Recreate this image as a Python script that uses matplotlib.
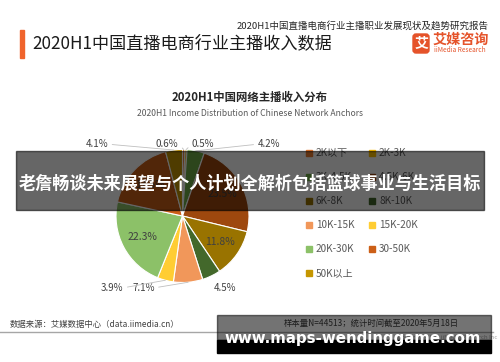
import matplotlib
matplotlib.use('Agg')
import matplotlib.pyplot as plt
from matplotlib.patches import Rectangle, FancyBboxPatch
import numpy as np

plt.rcParams['font.family'] = ['Noto Sans CJK SC', 'DejaVu Sans']

# data
categories = ['2K以下', '2K-3K', '3K-4.5K', '4.5K-6K', '6K-8K', '8K-10K',
              '10K-15K', '15K-20K', '20K-30K', '30-50K', '50K以上']
shares = [0.6, 0.5, 4.2, 23.5, 11.8, 4.5, 7.1, 3.9, 22.3, 17.5, 4.1]
colors = ['#ED7D31', '#FFC000', '#70AD47', '#9E480E', '#997300', '#43682B',
          '#F1975A', '#FFCD33', '#8CC168', '#CC5F17', '#C59600']

# label placement (pie units); third value = side the leader line leaves from
label_pos = {
    '2K以下': (-0.23, 1.08, 1.0),
    '2K-3K': (0.31, 1.08, 0.0),
    '3K-4.5K': (1.30, 1.08, 0.0),
    '8K-10K': (0.64, -1.08, None),
    '10K-15K': (-0.59, -1.08, 1.0),
    '15K-20K': (-1.06, -1.08, 1.0),
    '50K以上': (-1.29, 1.08, 1.0),
}

W, H = 500, 362
fig = plt.figure(figsize=(5, 3.62), dpi=100)
bg = fig.add_axes([0, 0, 1, 1])
bg.set_xlim(0, W)
bg.set_ylim(H, 0)
bg.axis('off')

# header
bg.text(489, 25.5, '2020H1中国直播电商行业主播职业发展现状及趋势研究报告',
        ha='right', va='center', fontsize=6.8, color='#262626')
bg.add_patch(Rectangle((20, 30), 4, 28, color='#F0642C'))
bg.text(32, 43, '2020H1中国直播电商行业主播收入数据', va='center',
        fontsize=12.3, color='#1a1a1a')
bg.add_patch(FancyBboxPatch((413, 34), 16, 19, boxstyle='round,pad=0,rounding_size=3',
                            color='#E5532A'))
bg.text(421, 43.5, '艾', ha='center', va='center', fontsize=10, color='white', weight='bold')
bg.text(433, 40, '艾媒咨询', va='center', fontsize=10.2, color='#E5532A', weight='bold')
bg.text(433.5, 50.5, 'iiMedia Research', va='center', fontsize=4.7, color='#E5532A')

# chart titles
bg.text(250, 97, '2020H1中国网络主播收入分布', ha='center', va='center',
        fontsize=8.2, weight='bold', color='#262626')
bg.text(250, 113, '2020H1 Income Distribution of Chinese Network Anchors',
        ha='center', va='center', fontsize=6.2, color='#595959')

# legend
for i, (cat, col) in enumerate(zip(categories, colors)):
    lx = 306 + (i % 2) * 63
    ly = 153 + (i // 2) * 24
    bg.add_patch(Rectangle((lx, ly - 3), 6, 6, color=col))
    bg.text(lx + 10, ly, cat, va='center', fontsize=7.2, color='#595959')

# footer
bg.text(10, 325, '数据来源：艾媒数据中心（data.iimedia.cn）', va='center',
        fontsize=6, color='#404040')
bg.text(371, 323, '样本量N=44513；统计时间截至2020年5月18日', ha='center', va='center',
        fontsize=6, color='#404040')
bg.plot([0, 493], [332, 332], color='#A6A6A6', lw=1)
bg.text(497, 337, 'Copyright©2020 iiMedia Research Inc', ha='right', va='center',
        fontsize=4.3, color='#A6A6A6')

# pie
cx, cy, r = 182.5, 216, 66.5
pa = fig.add_axes([(cx - r) / W, 1 - (cy + r) / H, 2 * r / W, 2 * r / H])
wedges, _ = pa.pie(shares, colors=colors, startangle=90, counterclock=False,
                   wedgeprops=dict(edgecolor='white', linewidth=0.8))
pa.set_xlim(-1, 1)
pa.set_ylim(-1, 1)
pa.axis('off')

start = 0.0
for cat, val in zip(categories, shares):
    mid = np.deg2rad((start + val / 2) / 100 * 360)
    start += val
    mx, my = np.sin(mid), np.cos(mid)
    txt = f'{val:.1f}%'
    if cat in label_pos:
        tx, ty, rel = label_pos[cat]
        if rel is None:
            pa.text(tx, ty, txt, ha='center', va='center', fontsize=7, color='#404040')
        else:
            pa.annotate(txt, xy=(mx, my), xytext=(tx, ty), ha='center', va='center',
                        fontsize=7, color='#404040', annotation_clip=False,
                        arrowprops=dict(arrowstyle='-', color='#BFBFBF', lw=0.6,
                                        relpos=(rel, 0.5), shrinkA=1, shrinkB=0))
    else:
        pa.text(0.68 * mx, 0.68 * my, txt, ha='center', va='center',
                fontsize=7.5, color='#404040')

# watermark overlays
ov = fig.add_axes([0, 0, 1, 1], zorder=10)
ov.set_xlim(0, W)
ov.set_ylim(H, 0)
ov.axis('off')
ov.patch.set_alpha(0)
ov.add_patch(Rectangle((16, 151), 468, 59, color='black', alpha=0.6))
ov.text(250, 184, '老詹畅谈未来展望与个人计划全解析包括篮球事业与生活目标',
        ha='center', va='center', fontsize=12.3, weight='bold', color='white')
ov.add_patch(Rectangle((217, 315), 274, 25, color='black', alpha=0.55))
ov.add_patch(Rectangle((217, 340), 274, 13, color='black'))
ov.text(353, 338, 'www.maps-wendinggame.com', ha='center', va='center',
        fontsize=10.8, weight='bold', color='white', family='DejaVu Sans')

fig.savefig('out.png', dpi=100)
